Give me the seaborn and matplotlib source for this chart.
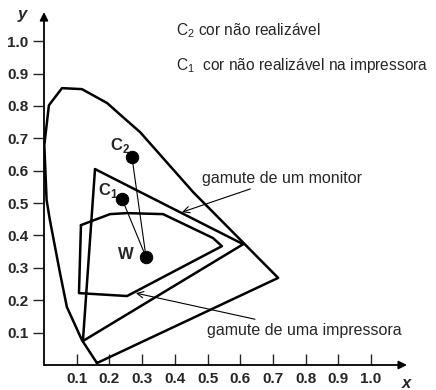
import numpy as np
import seaborn as sns
import matplotlib.pyplot as plt

# ---- valores (diagrama de cromaticidade xy) ----
locus_x = [0.162, 0.116, 0.070, 0.049, 0.018, 0.008, 0.001, 0.015, 0.055,
           0.116, 0.150, 0.193, 0.242, 0.294, 0.456, 0.716, 0.162]
locus_y = [0.006, 0.077, 0.179, 0.284, 0.448, 0.509, 0.679, 0.802, 0.855,
           0.852, 0.833, 0.809, 0.765, 0.719, 0.534, 0.269, 0.006]

monitor_x = [0.156, 0.609, 0.119, 0.156]
monitor_y = [0.605, 0.373, 0.074, 0.605]

printer_x = [0.113, 0.202, 0.254, 0.364, 0.517, 0.544, 0.254, 0.107, 0.113]
printer_y = [0.432, 0.466, 0.469, 0.466, 0.392, 0.367, 0.213, 0.222, 0.432]

point_names = ['C2', 'C1', 'W']
point_x = [0.269, 0.239, 0.312]
point_y = [0.642, 0.512, 0.333]

ticks = [0.1, 0.2, 0.3, 0.4, 0.5, 0.6, 0.7, 0.8, 0.9, 1.0]
tick_labels = ['0.1', '0.2', '0.3', '0.4', '0.5', '0.6', '0.7', '0.8', '0.9', '1.0']

# ----------------------------------------------------------------

sns.set_style("white")
plt.rcParams['font.family'] = ['Liberation Sans', 'DejaVu Sans']
plt.rcParams['mathtext.fontset'] = 'custom'
plt.rcParams['mathtext.rm'] = 'Liberation Sans'
plt.rcParams['mathtext.bf'] = 'Liberation Sans:bold'

fig = plt.figure(figsize=(4.36, 3.90), dpi=100)
ax = fig.add_axes([0.1009, 0.0641, 0.8326, 0.905])

lw = 1.8
sns.lineplot(x=locus_x, y=locus_y, sort=False, estimator=None, color='k', lw=lw, ax=ax)
sns.lineplot(x=monitor_x, y=monitor_y, sort=False, estimator=None, color='k', lw=lw, ax=ax)
sns.lineplot(x=printer_x, y=printer_y, sort=False, estimator=None, color='k', lw=lw, ax=ax)

# ligações W -> C1 e W -> C2
w = point_names.index('W')
for i in range(len(point_names)):
    if i != w:
        sns.lineplot(x=[point_x[w], point_x[i]], y=[point_y[w], point_y[i]],
                     sort=False, estimator=None, color='k', lw=0.8, ax=ax)

sns.scatterplot(x=point_x, y=point_y, color='k', s=80, edgecolor='k', zorder=5, ax=ax)

ax.set_xlim(0, 1.11)
ax.set_ylim(0, 1.09)

for s in ax.spines.values():
    s.set_visible(False)

# eixos com setas
ax.annotate('', xy=(1.11, 0), xytext=(0, 0), annotation_clip=False,
            arrowprops=dict(arrowstyle='-|>', lw=1.3, color='k', shrinkA=0, shrinkB=0,
                            mutation_scale=12))
ax.annotate('', xy=(0, 1.09), xytext=(0, 0), annotation_clip=False,
            arrowprops=dict(arrowstyle='-|>', lw=1.3, color='k', shrinkA=0, shrinkB=0,
                            mutation_scale=12))

ax.set_xticks(ticks)
ax.set_xticklabels(tick_labels, fontsize=11, fontweight='bold')
ax.set_yticks(ticks)
ax.set_yticklabels(tick_labels, fontsize=11, fontweight='bold')
ax.tick_params(axis='x', direction='in', length=8, width=1, pad=5, bottom=True)
ax.tick_params(axis='y', direction='out', length=8, width=1, pad=3, left=True)

fig.text(22 / 436, 1 - 14 / 390, 'y', fontsize=12, fontweight='bold', style='italic',
         ha='center', va='center')
fig.text(406 / 436, 1 - 383 / 390, 'x', fontsize=12, fontweight='bold', style='italic',
         ha='center', va='center')

# rótulos dos pontos
ax.text(0.202, 0.679, r'$\mathbf{C}_\mathbf{2}$', fontsize=12, va='center', ha='left')
ax.text(0.165, 0.540, r'$\mathbf{C}_\mathbf{1}$', fontsize=12, va='center', ha='left')
ax.text(0.225, 0.340, 'W', fontsize=12, fontweight='bold', va='center', ha='left')

# legendas no topo
ax.text(0.404, 1.034, r'C$_2$ cor não realizável', fontsize=11.2, va='center', ha='left')
ax.text(0.404, 0.926, r'C$_1$  cor não realizável na impressora', fontsize=11.2,
        va='center', ha='left')

ax.annotate('gamute de um monitor', xy=(0.422, 0.472), xytext=(0.483, 0.577),
            fontsize=11.5, va='center', ha='left',
            arrowprops=dict(arrowstyle='->', lw=0.8, color='k', shrinkA=0, shrinkB=0))
ax.annotate('gamute de uma impressora', xy=(0.281, 0.222), xytext=(0.498, 0.108),
            fontsize=11.5, va='center', ha='left',
            arrowprops=dict(arrowstyle='->', lw=0.8, color='k', shrinkA=0, shrinkB=0))

fig.savefig('out.png', dpi=100)
